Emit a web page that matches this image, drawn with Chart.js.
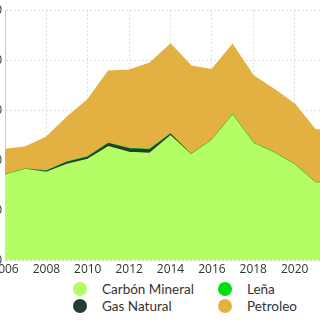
<!DOCTYPE html>
<html>
<head>
<meta charset="utf-8">
<script src="https://cdn.jsdelivr.net/npm/chart.js@4"></script>
<style>
    html, body { margin: 0; padding: 0; background: #fff; }
    body { width: 320px; height: 320px; overflow: hidden; position: relative; }
    #wrap { position: absolute; left: -40px; top: 0; width: 400px; height: 279px; }
    #legend {
        position: absolute; left: 73px; top: 281px;
        display: grid; grid-template-columns: 145px 100px; row-gap: 2px;
        font-family: "Lato", sans-serif; font-size: 13.5px; color: #333;
    }
    .item { display: flex; align-items: center; height: 15px; }
    .dot { width: 14px; height: 14px; border-radius: 50%; margin-right: 15px; }
</style>
</head>
<body>
<div id="wrap"><canvas id="chart"></canvas></div>
<div id="legend"></div>
<script>
const years = ['2006', '2007', '2008', '2009', '2010', '2011', '2012', '2013', '2014',
    '2015', '2016', '2017', '2018', '2019', '2020', '2021', '2022'];
const carbonMineral = [17.1, 18.2, 17.6, 19.2, 20.2, 22.7, 21.6, 21.4, 24.9, 21.1, 24.0, 29.0, 23.4, 21.5, 19.1, 15.5, 15.5];
const gasNatural = [0, 0, 0.2, 0.4, 0.4, 0.6, 0.7, 0.7, 0.3, 0, 0, 0, 0, 0, 0, 0, 0];
const lena = [0.1, 0.1, 0.1, 0.1, 0.1, 0.1, 0.1, 0.1, 0.1, 0.1, 0.1, 0.1, 0.1, 0.1, 0.1, 0.1, 0.1];
const petroleo = [5.0, 4.4, 6.7, 8.9, 11.4, 14.4, 15.6, 17.2, 17.9, 17.6, 14.0, 14.0, 13.4, 12.6, 12.0, 10.5, 10.5];
const yTicks = [0, 10, 20, 30, 40, 50];

function area(label, data, color, fill) {
    return {
        label: label,
        data: data,
        backgroundColor: color,
        borderColor: color,
        borderWidth: 1.5,
        pointRadius: 0,
        tension: 0,
        fill: fill
    };
}

const chart = new Chart(document.getElementById('chart'), {
    type: 'line',
    data: {
        labels: years,
        datasets: [
            area('Carbón Mineral', carbonMineral, '#b4fd64', 'origin'),
            area('Gas Natural', gasNatural, '#243c32', '-1'),
            area('Leña', lena, '#00dd11', '-1'),
            area('Petroleo', petroleo, '#e3b142', '-1')
        ]
    },
    options: {
        responsive: true,
        maintainAspectRatio: false,
        animation: false,
        layout: { padding: { top: 0, right: 24, bottom: 0, left: 0 } },
        plugins: { legend: { display: false }, tooltip: { enabled: false } },
        scales: {
            x: {
                afterBuildTicks: scale => { scale.ticks = scale.ticks.filter((t, i) => i % 2 === 0); },
                grid: { color: '#dddddd', drawTicks: false },
                border: { display: false, dash: [2, 2] },
                ticks: { autoSkip: false, maxRotation: 0, padding: 2, color: '#333',
                    font: { family: 'Open Sans', size: 12 } }
            },
            y: {
                stacked: true,
                min: 0,
                max: yTicks[yTicks.length - 1],
                afterBuildTicks: scale => { scale.ticks = yTicks.map(v => ({ value: v })); },
                afterFit: scale => { scale.width = 45; },
                grid: { color: '#dddddd', drawTicks: false },
                border: { color: '#cccccc', dash: [2, 2] },
                ticks: { padding: 3, color: '#333', font: { family: 'Open Sans', size: 12 } }
            }
        }
    }
});

const legend = document.getElementById('legend');
[0, 2, 1, 3].forEach(i => {
    const ds = chart.data.datasets[i];
    const item = document.createElement('div');
    item.className = 'item';
    const dot = document.createElement('span');
    dot.className = 'dot';
    dot.style.background = ds.backgroundColor;
    const text = document.createElement('span');
    text.textContent = ds.label;
    item.appendChild(dot);
    item.appendChild(text);
    legend.appendChild(item);
});
</script>
</body>
</html>
